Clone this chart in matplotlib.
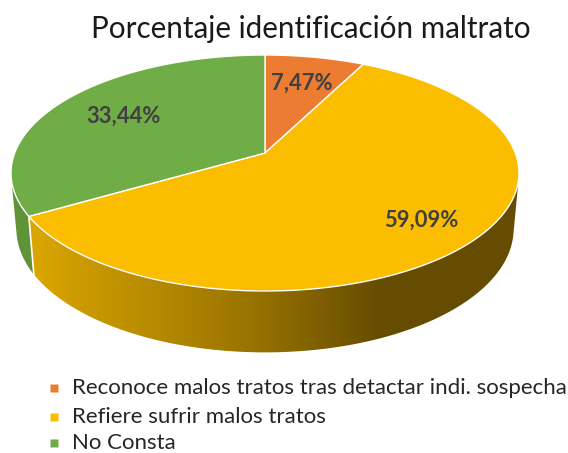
import numpy as np
import matplotlib
matplotlib.use("Agg")
import matplotlib.pyplot as plt
from matplotlib.colors import LinearSegmentedColormap
from matplotlib.patches import Polygon

plt.rcParams['font.family'] = ['Lato', 'DejaVu Sans']

title = "Porcentaje identificación maltrato"
categories = ["Reconoce malos tratos tras detactar indi. sospecha",
              "Refiere sufrir malos tratos",
              "No Consta"]
values = [7.47, 59.09, 33.44]
value_labels = ["7,47%", "59,09%", "33,44%"]
colors = ["#EB7C32", "#FBBD00", "#70AD47"]

# pie geometry, in pixels of the picture
cx, cy = 265, 153
rx, ry, persp = 250.3, 114.6, 0.1695
base_cy, base_rx, base_ry = 208, 245, 119.9


def top(theta, r=1.0, x0=cx, y0=cy, a=rx, b=ry):
    # angle clockwise from 12 o'clock, tilted disc with a little perspective
    t = np.radians(theta)
    u, v = r * np.sin(t), r * np.cos(t)
    d = 1 + persp * v
    return x0 + a * u / d, y0 - b * v / d


def bottom(theta):
    return top(theta, 1.0, cx, base_cy, base_rx, base_ry)


def hull(pts):
    pts = sorted(set(map(tuple, pts)))
    def half(seq):
        out = []
        for p in seq:
            while len(out) > 1 and ((out[-1][0] - out[-2][0]) * (p[1] - out[-2][1])
                                    - (out[-1][1] - out[-2][1]) * (p[0] - out[-2][0])) <= 0:
                out.pop()
            out.append(p)
        return out[:-1]
    return half(pts) + half(pts[::-1])


fig = plt.figure(figsize=(5.68, 4.53), dpi=100)
ax = fig.add_axes([0, 0, 1, 1])
ax.set_xlim(0, 568)
ax.set_ylim(453, 0)
ax.axis("off")

edges = np.concatenate([[0], np.cumsum(values)]) / sum(values) * 360
angles = np.linspace(0, 360, 721)

# side wall of the pie, shaded left to right
outline = np.column_stack(top(angles)).tolist() + np.column_stack(bottom(angles)).tolist()
solid = Polygon(hull(outline), closed=True, transform=ax.transData, fc="none", ec="none")
ax.add_patch(solid)
cmap = LinearSegmentedColormap.from_list("wall", [(0, "#DCA700"), (0.45, "#9A7400"),
                                                  (0.72, "#664C00"), (1, "#664C00")])
img = ax.imshow(np.linspace(0, 1, 256)[None, :], cmap=cmap, extent=(27, 519, 360, 170),
                aspect="auto", zorder=1)
img.set_clip_path(solid)
ax.set_xlim(0, 568)
ax.set_ylim(453, 0)

# green part of the wall, left of the last slice boundary
x1, y1 = top(edges[2])
x2, y2 = bottom(edges[2])
green_wall = Polygon([(x1, y1), (x2, y2), (x2, 300), (0, 300), (0, 170), (x1, 170)], closed=True,
                     fc="#5F9338", ec="none", zorder=2)
ax.add_patch(green_wall)
green_wall.set_clip_path(solid)
ax.plot([x1, x2], [y1, y2], color="white", lw=1.2, zorder=3)

# top face
for i in range(len(values)):
    th = np.linspace(edges[i], edges[i + 1], 200)
    xs, ys = top(th)
    ax.add_patch(Polygon(np.column_stack([np.r_[cx, xs], np.r_[cy, ys]]), closed=True,
                         fc=colors[i], ec="white", lw=1.0, joinstyle="round", zorder=4))

# value labels
label_r = [0.7, 0.78, 0.69]
for i in range(len(values)):
    lx, ly = top((edges[i] + edges[i + 1]) / 2, label_r[i])
    ax.text(lx, ly, value_labels[i], ha="center", va="center", fontsize=15.8,
            fontweight="bold", color="#404040", zorder=5)

ax.text(310.5, 29, title, ha="center", va="center", fontsize=21.3, color="#1a1a1a")

# legend
legend_y = [388, 417, 443]
for i in range(len(categories)):
    ax.plot([53.5], [legend_y[i]], marker="s", ms=5.2, mec="none", color=colors[i], zorder=5)
    ax.text(72, legend_y[i], categories[i], ha="left", va="center", fontsize=16, color="#262626")

fig.savefig("out.png", dpi=100)
